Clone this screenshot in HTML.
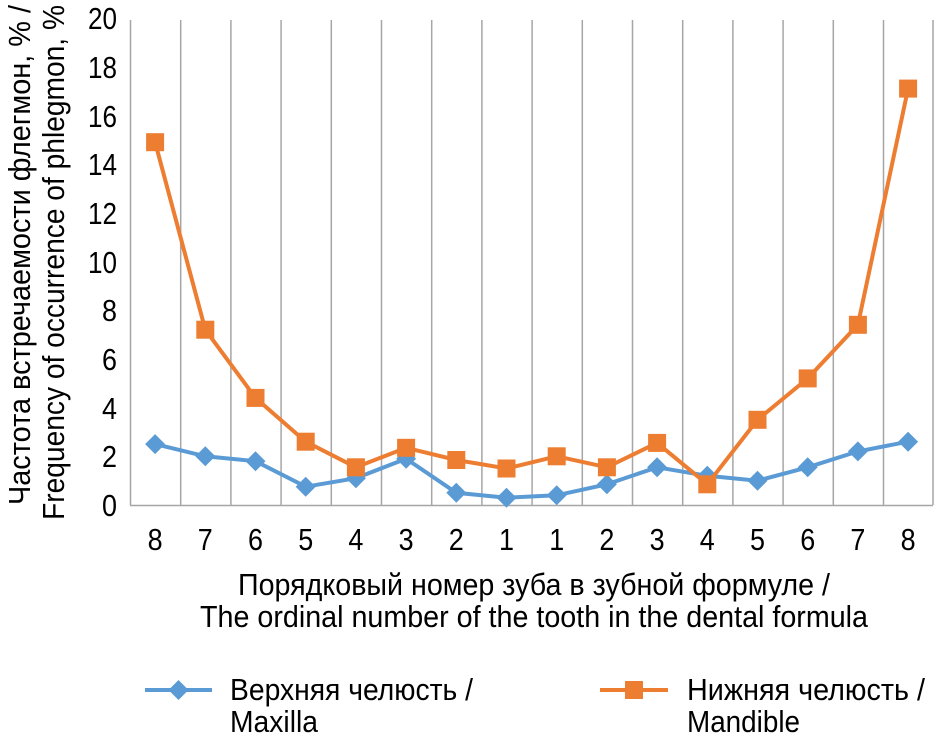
<!DOCTYPE html>
<html><head><meta charset="utf-8"><style>html,body{margin:0;padding:0;background:#fff}</style></head>
<body>
<svg width="937" height="740" xmlns="http://www.w3.org/2000/svg" font-family="Liberation Sans, sans-serif" fill="#000">
<g stroke="#a6a6a6" stroke-width="1.5">
<line x1="130.5" y1="20" x2="130.5" y2="505"/><line x1="180.7" y1="20" x2="180.7" y2="505"/><line x1="230.9" y1="20" x2="230.9" y2="505"/><line x1="281.1" y1="20" x2="281.1" y2="505"/><line x1="331.3" y1="20" x2="331.3" y2="505"/><line x1="381.5" y1="20" x2="381.5" y2="505"/><line x1="431.7" y1="20" x2="431.7" y2="505"/><line x1="481.9" y1="20" x2="481.9" y2="505"/><line x1="532.1" y1="20" x2="532.1" y2="505"/><line x1="582.3" y1="20" x2="582.3" y2="505"/><line x1="632.5" y1="20" x2="632.5" y2="505"/><line x1="682.7" y1="20" x2="682.7" y2="505"/><line x1="732.9" y1="20" x2="732.9" y2="505"/><line x1="783.1" y1="20" x2="783.1" y2="505"/><line x1="833.3" y1="20" x2="833.3" y2="505"/><line x1="883.5" y1="20" x2="883.5" y2="505"/><line x1="933" y1="20" x2="933" y2="505"/>
<line x1="130" y1="505.5" x2="933" y2="505.5"/>
</g>
<g font-size="31" lengthAdjust="spacingAndGlyphs">
<text x="102" y="516" textLength="15" lengthAdjust="spacingAndGlyphs">0</text>
<text x="102" y="467" textLength="15" lengthAdjust="spacingAndGlyphs">2</text>
<text x="102" y="419" textLength="15" lengthAdjust="spacingAndGlyphs">4</text>
<text x="102" y="370" textLength="15" lengthAdjust="spacingAndGlyphs">6</text>
<text x="102" y="321" textLength="15" lengthAdjust="spacingAndGlyphs">8</text>
<text x="88" y="273" textLength="29" lengthAdjust="spacingAndGlyphs">10</text>
<text x="88" y="224" textLength="29" lengthAdjust="spacingAndGlyphs">12</text>
<text x="88" y="175" textLength="29" lengthAdjust="spacingAndGlyphs">14</text>
<text x="88" y="127" textLength="29" lengthAdjust="spacingAndGlyphs">16</text>
<text x="88" y="78" textLength="29" lengthAdjust="spacingAndGlyphs">18</text>
<text x="88" y="29" textLength="29" lengthAdjust="spacingAndGlyphs">20</text>
</g>
<g font-size="31">
<text x="147.6" y="550" textLength="15" lengthAdjust="spacingAndGlyphs">8</text><text x="197.8" y="550" textLength="15" lengthAdjust="spacingAndGlyphs">7</text><text x="248" y="550" textLength="15" lengthAdjust="spacingAndGlyphs">6</text><text x="298.2" y="550" textLength="15" lengthAdjust="spacingAndGlyphs">5</text><text x="348.4" y="550" textLength="15" lengthAdjust="spacingAndGlyphs">4</text><text x="398.6" y="550" textLength="15" lengthAdjust="spacingAndGlyphs">3</text><text x="448.8" y="550" textLength="15" lengthAdjust="spacingAndGlyphs">2</text><text x="499" y="550" textLength="15" lengthAdjust="spacingAndGlyphs">1</text><text x="549.2" y="550" textLength="15" lengthAdjust="spacingAndGlyphs">1</text><text x="599.4" y="550" textLength="15" lengthAdjust="spacingAndGlyphs">2</text><text x="649.6" y="550" textLength="15" lengthAdjust="spacingAndGlyphs">3</text><text x="699.8" y="550" textLength="15" lengthAdjust="spacingAndGlyphs">4</text><text x="750" y="550" textLength="15" lengthAdjust="spacingAndGlyphs">5</text><text x="800.2" y="550" textLength="15" lengthAdjust="spacingAndGlyphs">6</text><text x="850.4" y="550" textLength="15" lengthAdjust="spacingAndGlyphs">7</text><text x="900.6" y="550" textLength="15" lengthAdjust="spacingAndGlyphs">8</text>
</g>
<polyline fill="none" stroke="#5b9bd5" stroke-width="4" points="155.1,444.1 205.3,456.3 255.5,461.2 305.7,486.7 355.9,478.2 406.1,458.7 456.3,492.8 506.5,497.7 556.7,495.3 606.9,484.3 657.1,467.3 707.3,475.8 757.5,480.7 807.7,467.3 857.9,451.4 908.1,441.7"/>
<g fill="#5b9bd5">
<path d="M155.1,434.1l10,10l-10,10l-10,-10z M205.3,446.3l10,10l-10,10l-10,-10z M255.5,451.2l10,10l-10,10l-10,-10z M305.7,476.7l10,10l-10,10l-10,-10z M355.9,468.2l10,10l-10,10l-10,-10z M406.1,448.7l10,10l-10,10l-10,-10z M456.3,482.8l10,10l-10,10l-10,-10z M506.5,487.7l10,10l-10,10l-10,-10z M556.7,485.3l10,10l-10,10l-10,-10z M606.9,474.3l10,10l-10,10l-10,-10z M657.1,457.3l10,10l-10,10l-10,-10z M707.3,465.8l10,10l-10,10l-10,-10z M757.5,470.7l10,10l-10,10l-10,-10z M807.7,457.3l10,10l-10,10l-10,-10z M857.9,441.4l10,10l-10,10l-10,-10z M908.1,431.7l10,10l-10,10l-10,-10z"/>
</g>
<polyline fill="none" stroke="#ed7d31" stroke-width="4" points="155.1,142.2 205.3,329.7 255.5,397.9 305.7,441.7 355.9,467.3 406.1,447.8 456.3,460 506.5,468.5 556.7,456.3 606.9,467.3 657.1,442.9 707.3,484.3 757.5,419.8 807.7,378.4 857.9,324.8 908.1,88.6"/>
<g fill="#ed7d31">
<rect x="146.1" y="133.2" width="18" height="18"/><rect x="196.3" y="320.7" width="18" height="18"/><rect x="246.5" y="388.9" width="18" height="18"/><rect x="296.7" y="432.7" width="18" height="18"/><rect x="346.9" y="458.3" width="18" height="18"/><rect x="397.1" y="438.8" width="18" height="18"/><rect x="447.3" y="451" width="18" height="18"/><rect x="497.5" y="459.5" width="18" height="18"/><rect x="547.7" y="447.3" width="18" height="18"/><rect x="597.9" y="458.3" width="18" height="18"/><rect x="648.1" y="433.9" width="18" height="18"/><rect x="698.3" y="475.3" width="18" height="18"/><rect x="748.5" y="410.8" width="18" height="18"/><rect x="798.7" y="369.4" width="18" height="18"/><rect x="848.9" y="315.8" width="18" height="18"/><rect x="899.1" y="79.6" width="18" height="18"/>
</g>
<g font-size="31">
<text transform="translate(30,505) rotate(-90)" textLength="500" lengthAdjust="spacingAndGlyphs">Частота встречаемости флегмон, % /</text>
<text transform="translate(64,520) rotate(-90)" textLength="515" lengthAdjust="spacingAndGlyphs">Frequency of occurrence of phlegmon, %</text>
<text x="238" y="595" textLength="592" lengthAdjust="spacingAndGlyphs">Порядковый номер зуба в зубной формуле /</text>
<text x="200" y="627" textLength="668" lengthAdjust="spacingAndGlyphs">The ordinal number of the tooth in the dental formula</text>
<text x="230" y="700" textLength="243" lengthAdjust="spacingAndGlyphs">Верхняя челюсть /</text>
<text x="230" y="732" textLength="88" lengthAdjust="spacingAndGlyphs">Maxilla</text>
<text x="687" y="700" textLength="238" lengthAdjust="spacingAndGlyphs">Нижняя челюсть /</text>
<text x="687" y="732" textLength="113" lengthAdjust="spacingAndGlyphs">Mandible</text>
</g>
<line x1="145" y1="690" x2="212" y2="690" stroke="#5b9bd5" stroke-width="4"/>
<path d="M178.5,680l10,10l-10,10l-10,-10z" fill="#5b9bd5"/>
<line x1="600" y1="690" x2="668" y2="690" stroke="#ed7d31" stroke-width="4"/>
<rect x="625" y="681" width="18" height="18" fill="#ed7d31"/>
</svg>
</body></html>
